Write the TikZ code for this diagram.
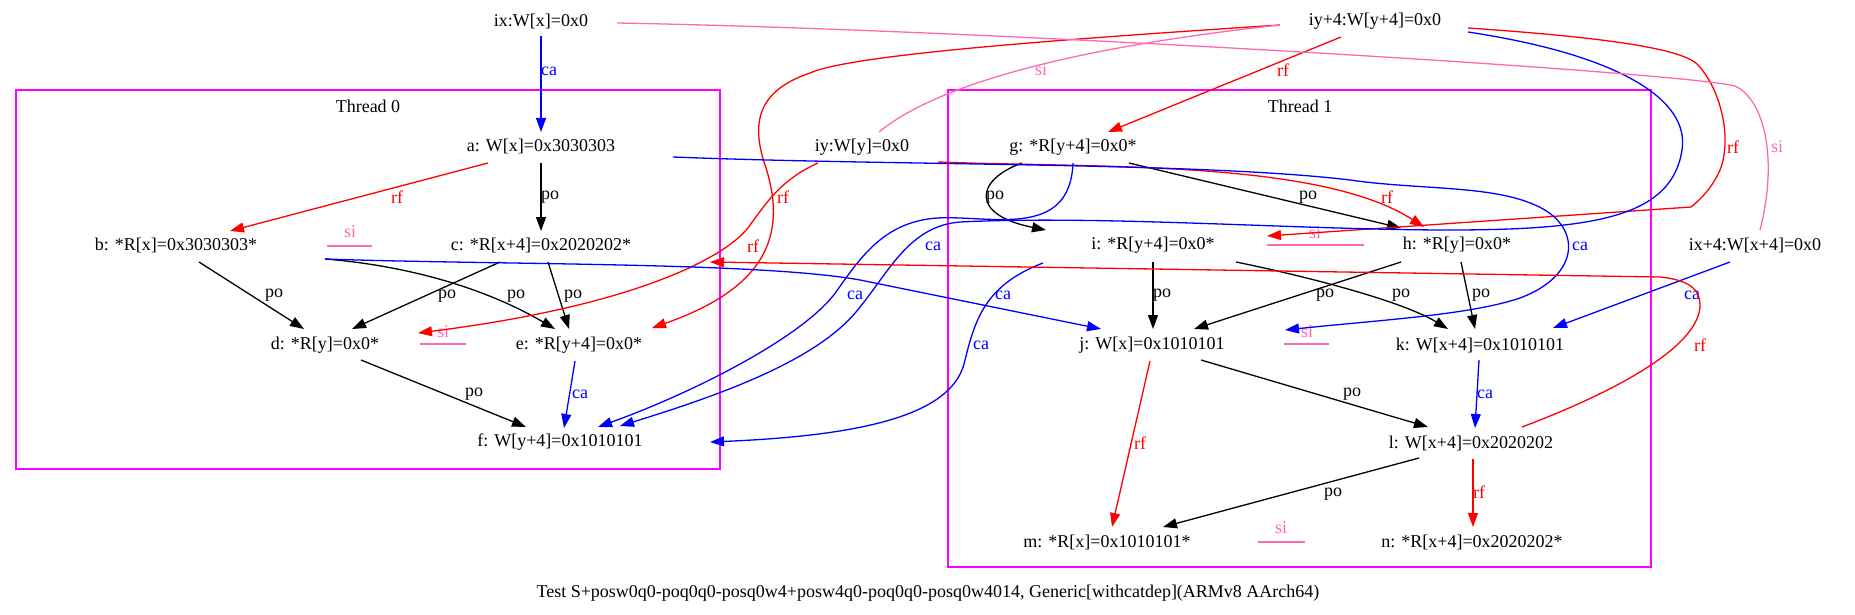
\documentclass[tikz,border=0pt]{standalone}
\usepackage{fontspec}
\setmainfont{Liberation Serif}
\usetikzlibrary{arrows.meta}
\usetikzlibrary{calc}
\definecolor{sipink}{RGB}{255,105,180}
\definecolor{thrmag}{RGB}{255,0,255}
\tikzset{
  ev/.style={inner sep=0pt, minimum height=31pt},
  lbl/.style={inner sep=0pt},
  arr/.style={line width=1.3pt, -{Triangle[length=14pt,width=10pt]}},
  po/.style={arr, black},
  rf/.style={arr, red},
  ca/.style={arr, blue},
  si/.style={line width=1.3pt, sipink},
  thr/.style={draw=thrmag, line width=1.3pt},
}

\begin{document}
\begin{tikzpicture}[x=1pt,y=-1pt,font=\fontsize{18}{22}\selectfont]
			\useasboundingbox (0,0) rectangle (1855,615);
			% thread boxes
			\draw[thr] (16,90) rectangle (720,469);
			\draw[thr] (948,90) rectangle (1651,567);
			\node (t0) at (368,106) {Thread 0};
			\node (t1) at (1300,106) {Thread 1};
			% initial writes
			\node[ev] (ix) at (541,21) {ix:W[x]=0x0};
			\node[ev] (iyf) at (1375,21) {iy+4:W[y+4]=0x0};
			\node[ev] (iy) at (862,147) {iy:W[y]=0x0};
			\node[ev] (ixf) at (1755,245) {ix+4:W[x+4]=0x0};
			% thread 0
			\node[ev] (a) at (541,146) {a: W[x]=0x3030303};
			\node[ev] (b) at (176,245) {b: *R[x]=0x3030303*};
			\node[ev] (c) at (541,245) {c: *R[x+4]=0x2020202*};
			\node[ev] (d) at (325,345) {d: *R[y]=0x0*};
			\node[ev] (e) at (579,345) {e: *R[y+4]=0x0*};
			\node[ev] (f) at (560,442) {f: W[y+4]=0x1010101};
			% thread 1
			\node[ev] (g) at (1073,147) {g: *R[y+4]=0x0*};
			\node[ev] (i) at (1153,245) {i: *R[y+4]=0x0*};
			\node[ev] (h) at (1457,245) {h: *R[y]=0x0*};
			\node[ev] (j) at (1152,345) {j: W[x]=0x1010101};
			\node[ev] (k) at (1480,345) {k: W[x+4]=0x1010101};
			\node[ev] (l) at (1471,443) {l: W[x+4]=0x2020202};
			\node[ev] (m) at (1107,542) {m: *R[x]=0x1010101*};
			\node[ev] (n) at (1472,542) {n: *R[x+4]=0x2020202*};
			\node (cap) at (928,593) {Test S+posw0q0-poq0q0-posq0w4+posw4q0-poq0q0-posq0w4014, Generic[withcatdep](ARMv8 AArch64)};
			
			% si marks
			\node[lbl, text=sipink] (sbc) at (350,232) {si};
			\draw[si] ($(sbc)+(-23,14)$) -- ++(45,0);
			\node[lbl, text=sipink] (sde) at (443,332) {si};
			\draw[si] ($(sde)+(-23,12)$) -- ++(46,0);
			\node[lbl, text=sipink] (sih) at (1315,233) {si};
			\draw[si] ($(sih)+(-48,12)$) -- ++(97,0);
			\node[lbl, text=sipink] (sjk) at (1307,332) {si};
			\draw[si] ($(sjk)+(-23,12)$) -- ++(45,0);
			\node[lbl, text=sipink] (smn) at (1281,528) {si};
			\draw[si] ($(smn)+(-23,14)$) -- ++(47,0);
			
			% thread 0 edges
			\draw[ca] ($(ix)+(0,15)$) -- ($(a)+(0,-14)$) node[lbl] (l1) at (549,71) {ca};
			\draw[po] ($(a)+(0,17)$) -- ($(c)+(0,-14)$) node[lbl] (l2) at (550,197) {po};
			\draw[rf] ($(a)+(-53,17)$) -- ($(b)+(54,-14)$) node[lbl] (l3) at (397,197) {rf};
			\draw[po] ($(b)+(23,17)$) -- ($(d)+(-21,-16)$) node[lbl] (l4) at (274,295) {po};
			\draw[po] ($(c)+(-41,17)$) -- ($(d)+(27,-16)$) node[lbl] (l5) at (447,296) {po};
			\draw[po] ($(b)+(149,14)$) .. controls (400,265) and (480,285) .. ($(e)+(-24,-16)$) node[lbl] (l6) at (516,296) {po};
			\draw[po] ($(c)+(7,17)$) -- ($(e)+(-10,-16)$) node[lbl] (l7) at (573,296) {po};
			\draw[po] ($(d)+(36,15)$) -- ($(f)+(-34,-15)$) node[lbl] (l8) at (474,394) {po};
			\draw[ca] ($(e)+(-4,16)$) -- ($(f)+(4,-14)$) node[lbl] (l9) at (580,394) {ca};
			
			% thread 1 edges
			\draw[rf] ($(iyf)+(-34,16)$) -- ($(g)+(35,-15)$) node[lbl] (l10) at (1283,70) {rf};
			\draw[po] ($(g)+(-51,16)$) .. controls (975,180) and (970,215) .. ($(i)+(-107,-15)$) node[lbl] (l11) at (995,197) {po};
			\draw[po] ($(g)+(56,16)$) -- ($(h)+(-56,-17)$) node[lbl] (l12) at (1308,197) {po};
			\draw[po] ($(i)+(0,17)$) -- ($(j)+(1,-16)$) node[lbl] (l22) at (1162,295) {po};
			\draw[po] ($(i)+(83,17)$) .. controls (1300,275) and (1400,300) .. ($(k)+(-32,-16)$) node[lbl] (l23) at (1401,295) {po};
			\draw[po] ($(h)+(-56,17)$) -- ($(j)+(42,-16)$) node[lbl] (l24) at (1325,295) {po};
			\draw[po] ($(h)+(4,17)$) -- ($(k)+(-5,-16)$) node[lbl] (l25) at (1481,295) {po};
			\draw[ca] ($(ixf)+(-25,17)$) -- ($(k)+(73,-17)$) node[lbl] (l26) at (1692,295) {ca};
			\draw[ca] ($(k)+(-1,15)$) -- ($(l)+(4,-15)$) node[lbl] (l27) at (1485,394) {ca};
			\draw[po] ($(j)+(49,15)$) -- ($(l)+(-43,-16)$) node[lbl] (l28) at (1352,394) {po};
			\draw[rf] ($(j)+(-2,16)$) -- ($(m)+(5,-15)$) node[lbl] (l29) at (1140,443) {rf};
			\draw[po] ($(l)+(-52,15)$) -- ($(m)+(56,-15)$) node[lbl] (l30) at (1333,494) {po};
			\draw[rf] ($(l)+(2,16)$) -- ($(n)+(1,-15)$) node[lbl] (l31) at (1479,492) {rf};
			
			% long edges across threads
			\draw[rf] ($(iy)+(76,15)$) .. controls (1100,168) and (1320,160) .. ($(h)+(-33,-18)$) node[lbl] (l13) at (1387,197) {rf};
			\draw[rf] ($(iy)+(-44,16)$) .. controls (780,180) and (765,205) .. (750,225) .. controls (730,255) and (640,305) .. ($(d)+(93,-12)$) node[lbl] (l14) at (753,246) {rf};
			\draw[rf] ($(iyf)+(-95,4)$) .. controls (1050,40) and (850,55) .. (810,73) .. controls (760,90) and (750,120) .. (765,165) .. controls (790,240) and (760,290) .. ($(e)+(73,-17)$) node[lbl] (l15) at (783,197) {rf};
			\draw[rf] ($(iyf)+(93,7)$) .. controls (1600,37) and (1680,48) .. (1697,64) .. controls (1722,90) and (1732,140) .. (1720,170) .. controls (1712,188) and (1700,200) .. (1691,207) -- ($(i)+(114,-9)$) node[lbl] (l16) at (1733,147) {rf};
			\draw[ca] ($(iyf)+(93,11)$) .. controls (1620,55) and (1690,100) .. (1682,150) .. controls (1672,215) and (1600,230) .. (1450,230) .. controls (1300,230) and (1100,215) .. (960,222) .. controls (910,226) and (890,270) .. (860,307) .. controls (820,360) and (720,395) .. ($(f)+(60,-16)$) node[lbl] (l17) at (933,246) {ca};
			\draw[ca] ($(g)+(0,16)$) .. controls (1070,240) and (990,215) .. (937,218) .. controls (885,222) and (862,255) .. (836,292) .. controls (805,335) and (700,390) .. ($(f)+(38,-15)$) node[lbl] (l18) at (855,295) {ca};
			\draw[ca] ($(i)+(-110,18)$) .. controls (985,285) and (975,320) .. (965,360) .. controls (955,410) and (880,435) .. ($(f)+(150,0)$) node[lbl] (l19) at (981,345) {ca};
			\draw[ca] ($(a)+(132,11)$) .. controls (900,166) and (1200,162) .. (1350,180) .. controls (1420,190) and (1490,185) .. (1535,205) .. controls (1582,225) and (1582,275) .. (1520,298) .. controls (1470,315) and (1380,320) .. ($(j)+(133,-15)$) node[lbl] (l20) at (1580,246) {ca};
			\draw[ca] ($(b)+(149,14)$) .. controls (500,265) and (760,262) .. (860,280) -- ($(j)+(-51,-16)$) node[lbl] (l21) at (1003,295) {ca};
			\draw[rf] ($(l)+(51,-16)$) .. controls (1620,390) and (1700,345) .. (1700,305) .. controls (1700,290) and (1690,280) .. (1660,277) -- ($(c)+(169,17)$) node[lbl] (l32) at (1700,345) {rf};
			\draw[si] ($(ix)+(76,2)$) .. controls (1000,30) and (1680,72) .. (1735,86) .. controls (1765,100) and (1778,160) .. ($(ixf)+(5,-15)$) node[lbl] (l33) at (1777,147) {si};
			\draw[si] ($(iy)+(17,-15)$) .. controls (930,90) and (1050,50) .. ($(iyf)+(-95,4)$) node[lbl] (l34) at (1041,70) {si};
		\end{tikzpicture}
\end{document}
